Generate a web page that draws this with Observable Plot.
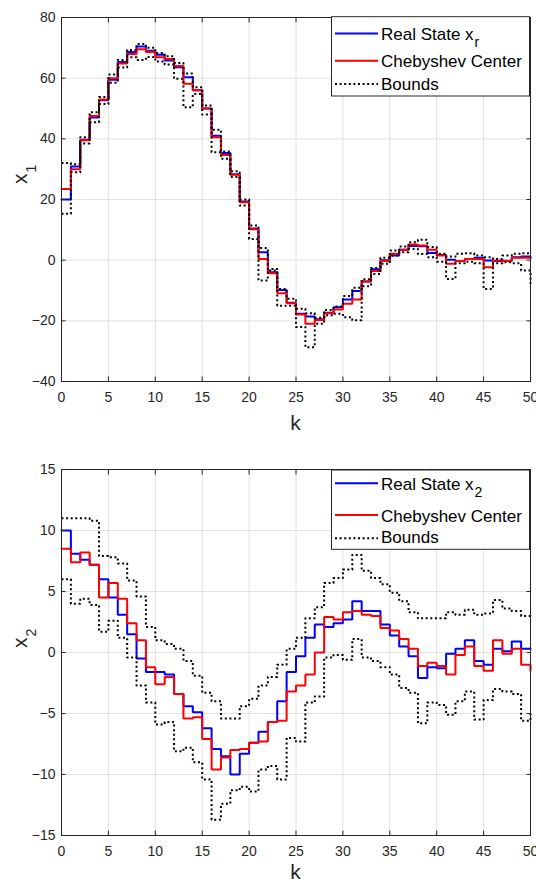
<!DOCTYPE html>
<html>
<head>
<meta charset="utf-8">
<script src="https://cdn.jsdelivr.net/npm/d3@7"></script>
<script src="https://cdn.jsdelivr.net/npm/@observablehq/plot@0.6"></script>
<style>
  html, body { margin: 0; padding: 0; background: #fff; }
  svg { display: block; }
</style>
</head>
<body>
<div id="chart"></div>
<script>
// ---- data ----
const k = [0,1,2,3,4,5,6,7,8,9,10,11,12,13,14,15,16,17,18,19,20,21,22,23,24,25,26,27,28,29,30,31,32,33,34,35,36,37,38,39,40,41,42,43,44,45,46,47,48,49,50];
const xTicks = [0,5,10,15,20,25,30,35,40,45,50];
const y1Ticks = [-40,-20,0,20,40,60,80];
const y2Ticks = [-15,-10,-5,0,5,10,15];

const x1Real = [20,30.9,39.7,47,52.7,59.5,65.3,68.6,70.4,69,67.7,65.8,63.6,60.3,56,50,41,35.3,28.3,19.3,10.4,2.6,-4,-9.8,-14,-17.7,-18.6,-19.5,-17.3,-15.5,-13,-10.2,-7,-3,0,1.5,3.4,4.7,4.6,2.4,1.7,0.1,-0.3,0.4,0.8,-0.1,-0.3,-0.2,1,1.2,0.8];
const x1Cheb = [23.5,30,39.5,47.5,53,60,64.8,68,69.5,68.6,66.9,66.3,64,58.2,56,50,40.5,34.7,28.2,19.1,10.2,0.4,-4.3,-10.9,-14.2,-17.9,-21,-19.7,-17.5,-16.3,-14.4,-13,-7,-3.6,-0.3,2.1,3.4,5.2,4.8,3.4,1.5,-1.2,-0.3,0.4,0.4,-2.3,-0.1,-0.3,0.8,0.8,0.8];
const x1Upper = [32,31.6,40.5,48.8,53.8,61.2,66,69.3,71.3,70,68.3,67.2,65,61.5,57,51,43,35.8,29.3,20,11.4,4,-2.9,-9.5,-12.7,-16,-17.5,-19,-16.4,-15.3,-11.8,-9.1,-6.3,-2.6,0.8,3.2,4.5,5.9,6.7,4.3,2.1,1.2,2.1,2.3,1.5,1,0.4,1.5,2.1,2.3,2.3];
const x1Lower = [15.3,29,38.5,45.5,51.5,58.5,63.5,66.9,66,67,65.5,64.5,59.8,50.4,54.8,48,35.6,33.4,27.4,18,7,-6.7,-3.4,-15,-15,-22,-28.7,-21,-18.2,-17.7,-18.8,-19.8,-8.6,-4.6,-1.2,1.5,2.6,3.7,2,1,-0.5,-6.2,-1,-0.5,-1,-9.5,-1,-0.7,-1,-3.4,-7.8];

const x2Real = [10,8.1,7.6,7.2,6,4.5,3.1,1.5,-0.5,-1.6,-1.6,-1.8,-3.4,-4.4,-4.9,-6.2,-7.9,-8.5,-10,-8.3,-7.4,-6.5,-5.7,-4,-1.6,-0.3,1.2,2.3,2.1,2.4,2.7,4.2,3.4,3.4,2.3,1.4,0.5,-0.3,-2.1,-1.2,-1.3,-0.1,0.3,1,-0.7,-1,0.3,0.1,0.9,0.3,0.3];
const x2Cheb = [8.5,7.4,8.2,7.2,4.5,5.7,4.4,2.4,1,-1.2,-2.6,-2,-3.4,-5.4,-5.3,-7.1,-9.6,-8.6,-8,-7.9,-7.4,-7.3,-5.7,-5.6,-3.2,-2.7,-1.8,0,2.9,2.7,3.3,3.4,3.1,3,2,1.8,1.1,0.3,-1.1,-0.85,-1.1,-1.8,-0.2,0.5,-1.1,-1.5,1,-0.1,0.3,-1,-1.5];
const x2Upper = [11,11,11,10.8,7.9,7.8,7.3,5.9,4.6,2.1,1,0.7,0.3,-0.7,-1.9,-3.3,-4,-5.4,-5.4,-4.4,-3.8,-2.7,-2,-1,0.3,1.2,2.8,3.7,5.7,6.1,6.8,8,6.7,6.1,5.6,4.9,4.2,3.3,2.8,2.8,2.8,3.3,3.1,3.5,3.1,3.2,4.3,3.6,3.4,3,2.9];
const x2Lower = [6,4,4.4,3.9,1.7,2.6,1.2,-0.4,-2.7,-4.1,-5.9,-5.7,-8.1,-7.8,-9,-10.4,-13.7,-12.4,-11.3,-11,-11.4,-9.6,-9.3,-10.4,-7,-7.3,-4.1,-3.6,-0.4,-0.2,-0.6,1.1,-0.4,-0.7,-1.2,-1.8,-2.9,-3.3,-5.8,-4.1,-4.3,-5.1,-4,-3.2,-5.5,-3.9,-3,-3.2,-3.4,-5.6,-5];

const legendLabels = ["Real State x", "Chebyshev Center", "Bounds"];
const colors = {real: "#0000ff", cheb: "#ff0000", bound: "#000000"};

// ---- drawing ----
const FONT = "'Liberation Sans', Arial, Helvetica, sans-serif";
const INK = "#262626";
const GRID = "#e2e2e2";
const DASH = "2,2.6";

function panel(opt) {
  const svg = Plot.plot({
    width: 536,
    height: opt.height,
    marginTop: opt.marginTop,
    marginBottom: opt.marginBottom,
    marginLeft: 61,
    marginRight: 6,
    style: {fontFamily: FONT, fontSize: "14px", color: INK, background: "#fff", overflow: "visible"},
    x: {domain: [0, 50], ticks: xTicks},
    y: {domain: opt.yDomain, ticks: opt.yTicks},
    marks: [
      Plot.gridX(xTicks, {stroke: GRID, strokeOpacity: 1, strokeWidth: 1}),
      Plot.gridY(opt.yTicks, {stroke: GRID, strokeOpacity: 1, strokeWidth: 1}),
      Plot.line(k, {x: k, y: opt.real, curve: "step-after", stroke: colors.real, strokeWidth: 2, strokeLinejoin: "miter"}),
      Plot.line(k, {x: k, y: opt.cheb, curve: "step-after", stroke: colors.cheb, strokeWidth: 2, strokeLinejoin: "miter"}),
      Plot.line(k, {x: k, y: opt.upper, curve: "step-after", stroke: colors.bound, strokeWidth: 2, strokeDasharray: DASH, strokeLinecap: "butt"}),
      Plot.line(k, {x: k, y: opt.lower, curve: "step-after", stroke: colors.bound, strokeWidth: 2, strokeDasharray: DASH, strokeLinecap: "butt"}),
      Plot.frame({stroke: INK, strokeWidth: 1}),
      Plot.axisX(xTicks, {anchor: "bottom", tickSize: -4.5, tickPadding: 15, label: null, stroke: INK, fill: INK, fontSize: 14}),
      Plot.axisX(xTicks, {anchor: "top", tickSize: -4.5, fill: "none", label: null, stroke: INK}),
      Plot.axisY(opt.yTicks, {anchor: "left", tickSize: -4.5, tickPadding: 10.5, label: null, stroke: INK, fill: INK, fontSize: 14}),
      Plot.axisY(opt.yTicks, {anchor: "right", tickSize: -4.5, fill: "none", label: null, stroke: INK})
    ]
  });

  const s = d3.select(svg);
  // x label
  s.append("text")
    .attr("x", 295.5).attr("y", opt.kBaseline)
    .attr("text-anchor", "middle")
    .attr("font-family", FONT).attr("font-size", 21).attr("fill", INK)
    .text("k");
  // y label
  const yl = s.append("text")
    .attr("transform", `translate(27,${opt.yLabelStart}) rotate(-90)`)
    .attr("text-anchor", "start")
    .attr("font-family", FONT).attr("font-size", 21).attr("fill", INK);
  yl.append("tspan").text("x");
  yl.append("tspan").attr("font-size", 14).attr("dy", 9).attr("dx", 1).text(opt.sub);

  // legend
  const g = s.append("g")
    .attr("font-family", FONT).attr("font-size", 17).attr("fill", "#000")
    .attr("text-anchor", "start");
  g.append("rect")
    .attr("x", 331.5).attr("y", opt.legTop)
    .attr("width", 198).attr("height", 79.3)
    .attr("fill", "#fff").attr("stroke", INK).attr("stroke-width", 1);
  const styles = [
    {stroke: colors.real, dash: null},
    {stroke: colors.cheb, dash: null},
    {stroke: colors.bound, dash: DASH}
  ];
  legendLabels.forEach((lab, i) => {
    const ly = opt.legLines[i];
    const ln = g.append("line")
      .attr("x1", 335).attr("x2", 378).attr("y1", ly).attr("y2", ly)
      .attr("stroke", styles[i].stroke).attr("stroke-width", 2);
    if (styles[i].dash) ln.attr("stroke-dasharray", styles[i].dash);
    const t = g.append("text").attr("x", 381).attr("y", opt.legBase[i]).attr("text-anchor", "start");
    t.append("tspan").text(lab);
    if (i === 0) {
      t.append("tspan").attr("font-size", 14).attr("dy", 7).attr("dx", 1).text(opt.legendSub);
    }
  });
  return svg;
}

const topPanel = panel({
  height: 443, marginTop: 17, marginBottom: 62,
  yDomain: [-40, 80], yTicks: y1Ticks,
  real: x1Real, cheb: x1Cheb, upper: x1Upper, lower: x1Lower,
  sub: "1", legendSub: "r",
  kBaseline: 430, yLabelStart: 184,
  legTop: 16.7, legLines: [33.4, 60.8, 84], legBase: [40, 67.3, 90]
});
const bottomPanel = panel({
  height: 440, marginTop: 26, marginBottom: 48,
  yDomain: [-15, 15], yTicks: y2Ticks,
  real: x2Real, cheb: x2Cheb, upper: x2Upper, lower: x2Lower,
  sub: "2", legendSub: "2",
  kBaseline: 436, yLabelStart: 205,
  legTop: 27, legLines: [40.3, 72, 95.3], legBase: [47, 78.7, 100.3]
});
document.getElementById("chart").append(topPanel, bottomPanel);
</script>
</body>
</html>
